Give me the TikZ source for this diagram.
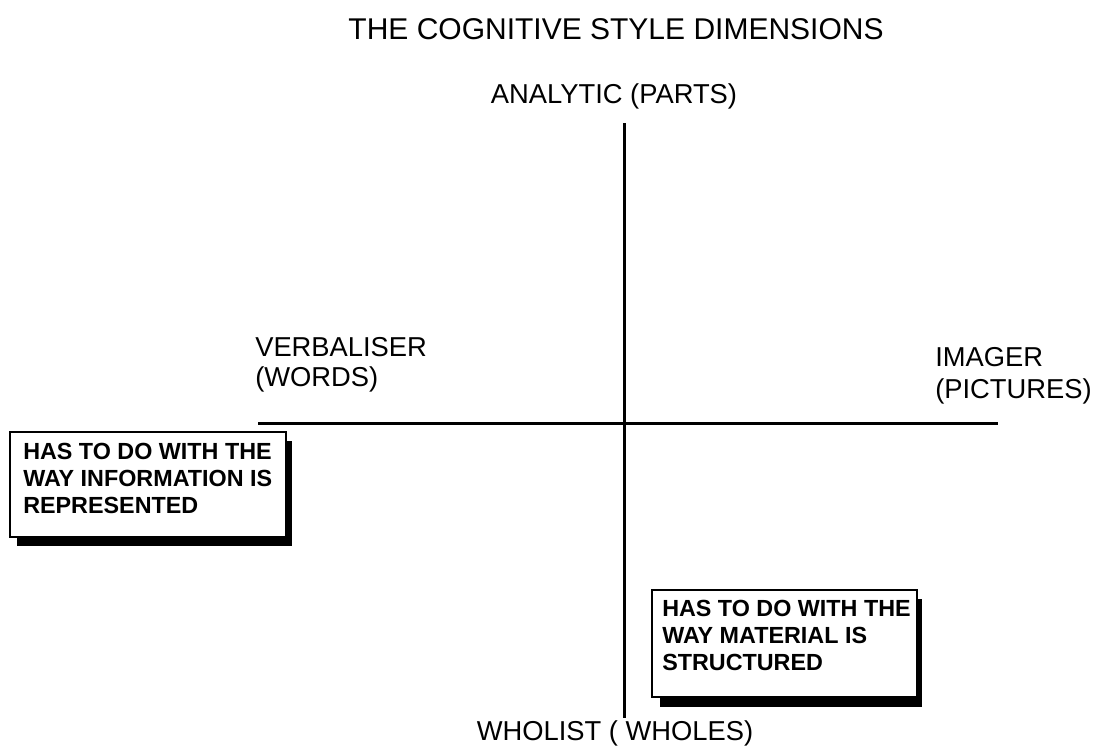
\documentclass[tikz,border=0pt]{standalone}
\usepackage{fontspec}
\setmainfont{Liberation Sans}
\begin{document}
\begin{tikzpicture}[x=0.75pt,y=-0.75pt,
  lbl/.style={inner sep=0pt,font=\fontsize{20.5pt}{22.5pt}\selectfont,align=left},
  boxtext/.style={inner sep=0pt,font=\bfseries\fontsize{17.5pt}{20.25pt}\selectfont,align=left,anchor=north west},
  axis/.style={line width=2.25pt},
  frame/.style={draw=black,fill=white,line width=2pt},
  shadow/.style={fill=black}]
\useasboundingbox (0,0) rectangle (1094,747);
% title
\node[inner sep=0pt,font=\fontsize{22.5pt}{26pt}\selectfont,anchor=base] (title) at (616,39) {THE COGNITIVE STYLE DIMENSIONS};
% axes
\coordinate (vt) at (624,123);
\coordinate (vb) at (624,718);
\coordinate (hl) at (258,423);
\coordinate (hr) at (998,423);
\draw[axis] (vt) -- (vb);
\draw[axis] (hl) -- (hr);
% axis labels
\node[lbl,anchor=base] (analytic) at (614,103) {ANALYTIC (PARTS)};
\node[lbl,anchor=base] (wholist) at (615,740) {WHOLIST ( WHOLES)};
\node[lbl,anchor=north west] (verbal) at (255,337) {VERBALISER\\(WORDS)};
\node[lbl,anchor=north west,font=\fontsize{20.5pt}{24pt}\selectfont] (imager) at (935,347) {IMAGER\\(PICTURES)};
% box 1
\fill[shadow] (17,441) rectangle (292,546);
\draw[frame] (10,432) rectangle (286,537);
\node[boxtext] (box1) at (23,443) {HAS TO DO WITH THE\\WAY INFORMATION IS\\REPRESENTED};
% box 2
\fill[shadow] (660,599) rectangle (922,707);
\draw[frame] (652,590) rectangle (917,697);
\node[boxtext] (box2) at (662,600) {HAS TO DO WITH THE\\WAY MATERIAL IS\\STRUCTURED};
\end{tikzpicture}
\end{document}
